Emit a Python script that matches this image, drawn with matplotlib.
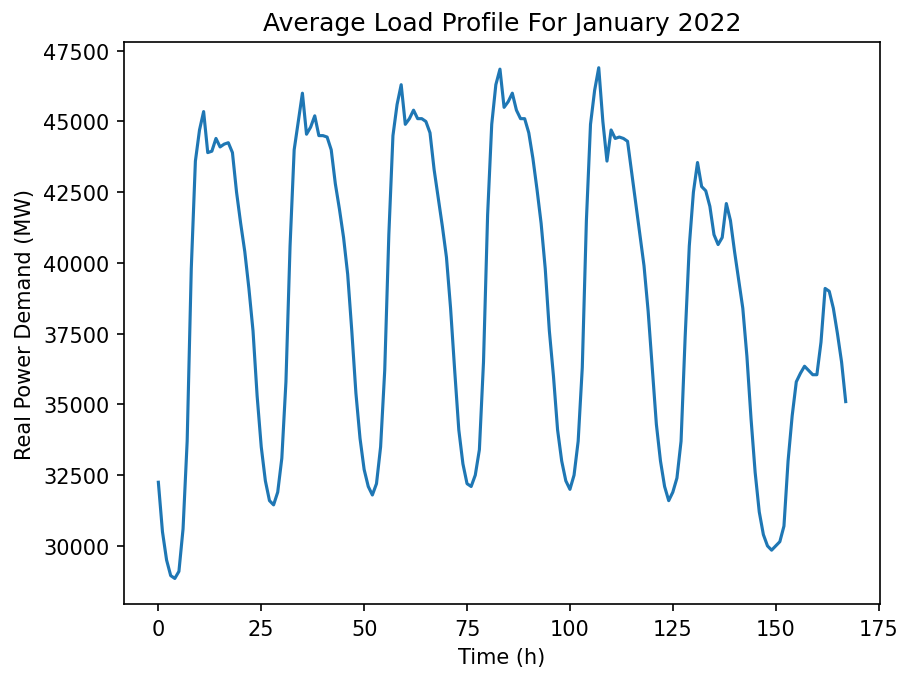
import numpy as np
import matplotlib
matplotlib.use("Agg")
import matplotlib.pyplot as plt

# hourly average load, one week (168 h)
day1 = [32250, 30500, 29500, 28950, 28850, 29100, 30600, 33700, 39800, 43600,
        44700, 45350, 43900, 43950, 44400, 44100, 44200, 44250, 43900, 42500,
        41400, 40400, 39100, 37600]
day2 = [35300, 33500, 32300, 31600, 31450, 31900, 33100, 35800, 40600, 44000,
        45000, 46000, 44550, 44800, 45200, 44500, 44500, 44450, 44000, 42800,
        41900, 40900, 39600, 37600]
day3 = [35400, 33800, 32700, 32100, 31800, 32200, 33500, 36200, 41000, 44500,
        45600, 46300, 44900, 45100, 45400, 45100, 45100, 45000, 44600, 43300,
        42300, 41300, 40200, 38400]
day4 = [36200, 34100, 32900, 32200, 32100, 32500, 33400, 36500, 41700, 44900,
        46300, 46850, 45500, 45700, 46000, 45400, 45100, 45100, 44600, 43700,
        42600, 41400, 39800, 37600]
day5 = [36000, 34100, 33000, 32300, 32000, 32500, 33700, 36300, 41500, 44900,
        46100, 46900, 45000, 43600, 44700, 44400, 44450, 44400, 44300, 43200,
        42100, 41000, 39900, 38300]
day6 = [36300, 34300, 33000, 32100, 31600, 31900, 32400, 33700, 37400, 40600,
        42500, 43550, 42700, 42550, 42000, 41000, 40650, 40900, 42100, 41500,
        40400, 39400, 38400, 36700]
day7 = [34500, 32600, 31200, 30400, 30000, 29850, 30000, 30150, 30700, 33000,
        34600, 35800, 36100, 36350, 36200, 36050, 36050, 37200, 39100, 39000,
        38400, 37500, 36500, 35100]

load = np.array(day1 + day2 + day3 + day4 + day5 + day6 + day7)
hours = np.arange(len(load))

fig = plt.figure(figsize=(6.007, 4.493), dpi=150)
plt.subplots_adjust(left=0.1376, right=0.9767, top=0.936, bottom=0.1024)

plt.plot(hours, load)

plt.xlabel("Time (h)")
plt.ylabel("Real Power Demand (MW)")
plt.title("Average Load Profile For January 2022")

plt.savefig("out.png", dpi=150)
